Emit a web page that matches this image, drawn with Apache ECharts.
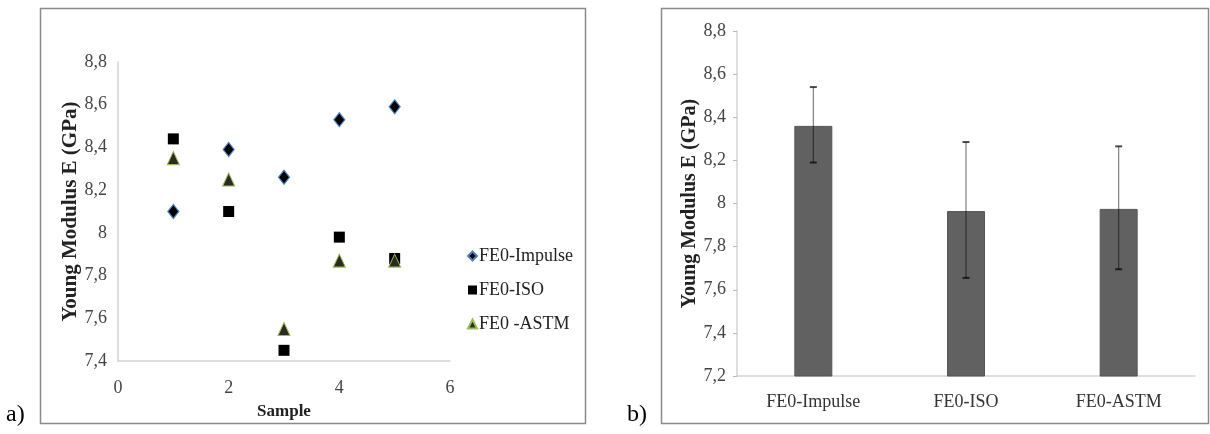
<!DOCTYPE html>
<html>
<head>
<meta charset="utf-8">
<script src="https://cdn.jsdelivr.net/npm/echarts@6/dist/echarts.min.js"></script>
<style>
html,body{margin:0;padding:0;background:#fff;}
#c{width:1210px;height:434px;}
</style>
</head>
<body>
<div id="c"></div>
<script>
// ---- data (panel a: scatter) ----
const samples = [1, 2, 3, 4, 5];
const impulse = [8.10, 8.39, 8.26, 8.53, 8.59];
const iso     = [8.44, 8.10, 7.45, 7.98, 7.88];
const astm    = [8.35, 8.25, 7.55, 7.87, 7.87];
const seriesNames = ['FE0-Impulse', 'FE0-ISO', 'FE0 -ASTM'];
const xTicksA = { min: 0, max: 6, interval: 2 };
const yTicksA = { min: 7.4, max: 8.8, interval: 0.2 };

// ---- data (panel b: bars with error bars) ----
const categories = ['FE0-Impulse', 'FE0-ISO', 'FE0-ASTM'];
const means      = [8.36, 7.965, 7.975];
const errHigh    = [8.54, 8.285, 8.265];
const errLow     = [8.19, 7.655, 7.695];
const yTicksB = { min: 7.2, max: 8.8, interval: 0.2 };

const serif = "'Liberation Serif', 'Times New Roman', serif";
const fmt = v => String(+(+v).toFixed(1)).replace('.', ',');
const axisGray = '#d4d4d4';

const chart = echarts.init(document.getElementById('c'), null, { renderer: 'canvas' });

const pairs = arr => samples.map((s, i) => [s, arr[i]]);

chart.setOption({
  backgroundColor: '#fff',
  animation: false,
  grid: [
    { left: 118, top: 62, width: 332, height: 299 },
    { left: 737, top: 31, width: 458, height: 345 }
  ],
  legend: {
    orient: 'vertical',
    left: 462,
    top: 242,
    itemGap: 16,
    itemWidth: 9,
    itemHeight: 9,
    textStyle: { fontFamily: serif, fontSize: 18, color: '#222', padding: [0, 0, 0, -3] },
    data: seriesNames
  },
  xAxis: [
    {
      gridIndex: 0, type: 'value',
      min: xTicksA.min, max: xTicksA.max, interval: xTicksA.interval,
      axisLine: { show: true, lineStyle: { color: axisGray, width: 1.5 } },
      axisTick: { show: false },
      splitLine: { show: false },
      axisLabel: { fontFamily: serif, fontSize: 18, color: '#444', margin: 18 },
      name: 'Sample', nameLocation: 'middle', nameGap: 42,
      nameTextStyle: { fontFamily: serif, fontSize: 17, fontWeight: 'bold', color: '#222' }
    },
    {
      gridIndex: 1, type: 'category', data: categories,
      axisLine: { show: true, lineStyle: { color: axisGray, width: 1.5 } },
      axisTick: { show: false },
      splitLine: { show: false },
      axisLabel: { fontFamily: serif, fontSize: 18, color: '#333', margin: 17 }
    }
  ],
  yAxis: [
    {
      gridIndex: 0, type: 'value',
      min: yTicksA.min, max: yTicksA.max, interval: yTicksA.interval,
      axisLine: { show: true, lineStyle: { color: axisGray, width: 1.5 } },
      axisTick: { show: false },
      splitLine: { show: false },
      axisLabel: { fontFamily: serif, fontSize: 18, color: '#444', margin: 11, formatter: fmt },
      name: 'Young Modulus E (GPa)', nameLocation: 'middle', nameRotate: 90, nameGap: 35,
      nameTextStyle: { fontFamily: serif, fontSize: 21, fontWeight: 'bold', color: '#222' }
    },
    {
      gridIndex: 1, type: 'value',
      min: yTicksB.min, max: yTicksB.max, interval: yTicksB.interval,
      axisLine: { show: true, lineStyle: { color: axisGray, width: 1.5 } },
      axisTick: { show: true, length: 4, lineStyle: { color: '#bbb' } },
      splitLine: { show: false },
      axisLabel: { fontFamily: serif, fontSize: 18, color: '#444', margin: 11, formatter: fmt },
      name: 'Young Modulus E (GPa)', nameLocation: 'middle', nameRotate: 90, nameGap: 35,
      nameTextStyle: { fontFamily: serif, fontSize: 20, fontWeight: 'bold', color: '#222' }
    }
  ],
  series: [
    {
      name: seriesNames[0], type: 'scatter', xAxisIndex: 0, yAxisIndex: 0,
      symbol: 'diamond', symbolSize: [11, 14],
      itemStyle: { color: '#000', borderColor: '#4f81bd', borderWidth: 1.2, opacity: 1 },
      data: pairs(impulse), z: 3
    },
    {
      name: seriesNames[1], type: 'scatter', xAxisIndex: 0, yAxisIndex: 0,
      symbol: 'rect', symbolSize: 11,
      itemStyle: { color: '#000', opacity: 1 },
      data: pairs(iso), z: 2
    },
    {
      name: seriesNames[2], type: 'scatter', xAxisIndex: 0, yAxisIndex: 0,
      symbol: 'triangle', symbolSize: [12, 13],
      itemStyle: { color: '#2b2b24', borderColor: '#9bbb59', borderWidth: 1, opacity: 1 },
      data: pairs(astm), z: 4
    },
    {
      name: 'means', type: 'bar', xAxisIndex: 1, yAxisIndex: 1,
      barWidth: 38,
      itemStyle: { color: '#616161', borderColor: '#555', borderWidth: 1 },
      data: means
    },
    {
      name: 'errors', type: 'custom', xAxisIndex: 1, yAxisIndex: 1, z: 5,
      data: categories.map((c, i) => [i, errLow[i], errHigh[i]]),
      renderItem: function (params, api) {
        const i = api.value(0);
        const lo = api.coord([i, api.value(1)]);
        const hi = api.coord([i, api.value(2)]);
        const cap = 3.5;
        const st = { stroke: 'rgba(0,0,0,0.5)', lineWidth: 1.2 };
        const cst = { stroke: 'rgba(0,0,0,0.7)', lineWidth: 2 };
        return {
          type: 'group',
          children: [
            { type: 'line', shape: { x1: hi[0], y1: hi[1], x2: lo[0], y2: lo[1] }, style: st },
            { type: 'line', shape: { x1: hi[0] - cap, y1: hi[1], x2: hi[0] + cap, y2: hi[1] }, style: cst },
            { type: 'line', shape: { x1: lo[0] - cap, y1: lo[1], x2: lo[0] + cap, y2: lo[1] }, style: cst }
          ]
        };
      }
    }
  ],
  graphic: [
    { type: 'rect', shape: { x: 40.5, y: 8.5, width: 545, height: 415 },
      style: { fill: 'none', stroke: '#8a8a8a', lineWidth: 1.5 }, silent: true },
    { type: 'rect', shape: { x: 661.5, y: 8.5, width: 547, height: 415 },
      style: { fill: 'none', stroke: '#8a8a8a', lineWidth: 1.5 }, silent: true },
    { type: 'text', left: 6, top: 403,
      style: { text: 'a)', font: "24px 'Liberation Serif', serif", fill: '#000' } },
    { type: 'text', left: 627, top: 403,
      style: { text: 'b)', font: "24px 'Liberation Serif', serif", fill: '#000' } }
  ]
});
</script>
</body>
</html>
